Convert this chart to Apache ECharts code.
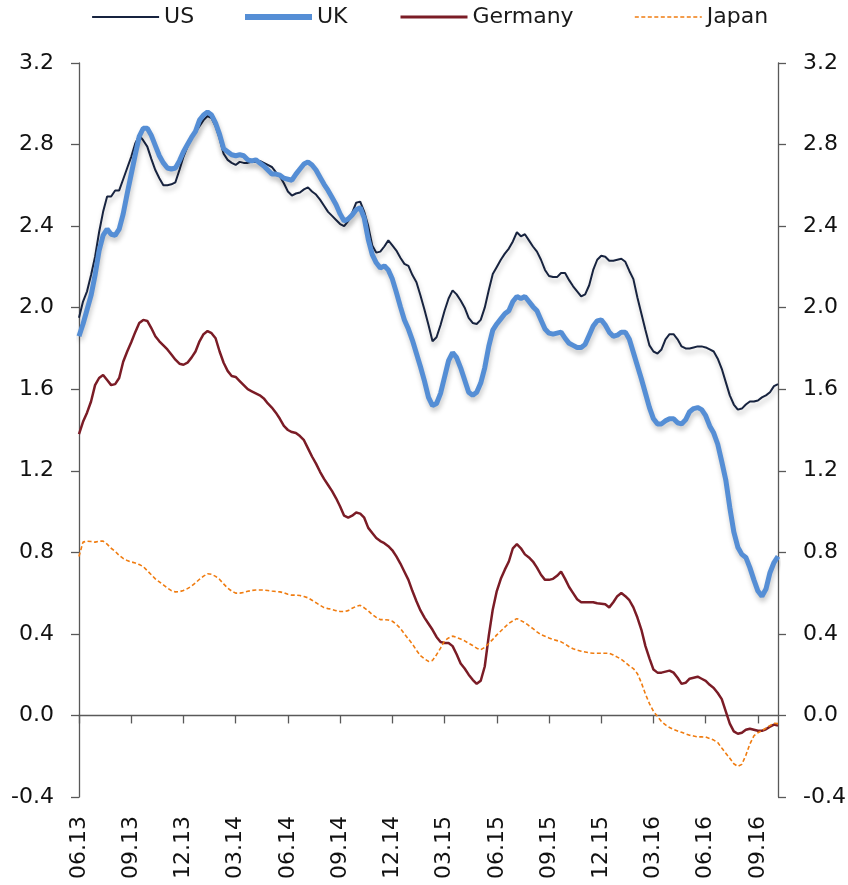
<!DOCTYPE html>
<html>
<head>
<meta charset="utf-8">
<script src="https://cdn.jsdelivr.net/npm/echarts@6/dist/echarts.min.js"></script>
<style>
html,body{margin:0;padding:0;background:#fff;}
#chart{width:848px;height:885px;}
</style>
</head>
<body>
<div id="chart"></div>
<script>
// Quarterly tick labels (one every 13 weekly observations)
const tickLabels = ["06.13","09.13","12.13","03.14","06.14","09.14","12.14","03.15","06.15","09.15","12.15","03.16","06.16","09.16"];
const weeksPerTick = 13;
const startDate = "2013-06-03";

const usValues = [1.95,2.03,2.08,2.16,2.25,2.37,2.47,2.545,2.545,2.575,2.575,2.63,2.685,2.74,2.805,2.845,2.82,2.79,2.73,2.675,
2.635,2.60,2.60,2.605,2.615,2.675,2.74,2.79,2.83,2.86,2.89,2.92,2.94,2.93,2.89,2.83,2.755,2.725,2.71,2.70,
2.715,2.71,2.71,2.715,2.715,2.72,2.71,2.70,2.69,2.665,2.645,2.61,2.57,2.55,2.56,2.565,2.58,2.59,2.57,2.555,
2.53,2.50,2.47,2.45,2.43,2.41,2.40,2.425,2.465,2.515,2.52,2.47,2.40,2.305,2.27,2.275,2.30,2.33,2.305,2.28,
2.245,2.215,2.205,2.16,2.125,2.06,1.99,1.915,1.835,1.855,1.915,1.985,2.045,2.085,2.065,2.035,2.00,1.95,1.925,1.92,
1.94,2.00,2.085,2.165,2.20,2.235,2.265,2.29,2.325,2.37,2.35,2.36,2.33,2.30,2.275,2.235,2.185,2.155,2.15,2.15,
2.17,2.17,2.135,2.105,2.08,2.055,2.065,2.11,2.185,2.235,2.255,2.25,2.23,2.23,2.235,2.24,2.225,2.18,2.14,2.05,
1.97,1.89,1.815,1.785,1.775,1.795,1.845,1.87,1.87,1.845,1.81,1.80,1.80,1.805,1.81,1.81,1.805,1.795,1.785,1.75,
1.70,1.635,1.57,1.525,1.50,1.505,1.525,1.54,1.54,1.545,1.56,1.57,1.585,1.615,1.625];

const ukValues = [1.86,1.92,1.99,2.06,2.16,2.28,2.355,2.385,2.36,2.355,2.385,2.46,2.56,2.655,2.75,2.84,2.88,2.88,2.845,2.795,
2.745,2.71,2.685,2.68,2.685,2.72,2.765,2.80,2.835,2.865,2.92,2.945,2.96,2.945,2.905,2.85,2.78,2.765,2.75,2.745,
2.75,2.745,2.725,2.72,2.725,2.71,2.695,2.675,2.655,2.655,2.65,2.635,2.63,2.625,2.655,2.68,2.705,2.715,2.70,2.675,
2.64,2.605,2.575,2.54,2.505,2.46,2.425,2.435,2.455,2.48,2.49,2.44,2.335,2.26,2.22,2.195,2.205,2.185,2.14,2.075,
2.005,1.94,1.895,1.84,1.775,1.71,1.64,1.56,1.52,1.53,1.58,1.66,1.74,1.78,1.755,1.705,1.645,1.585,1.57,1.585,
1.63,1.705,1.81,1.89,1.92,1.945,1.97,1.985,2.03,2.055,2.045,2.055,2.03,2.005,1.985,1.94,1.895,1.875,1.87,1.875,
1.88,1.85,1.825,1.815,1.805,1.805,1.82,1.865,1.91,1.935,1.94,1.915,1.88,1.86,1.865,1.88,1.88,1.845,1.78,1.715,
1.65,1.58,1.51,1.455,1.43,1.43,1.445,1.455,1.455,1.435,1.43,1.45,1.49,1.505,1.51,1.50,1.47,1.42,1.385,1.33,
1.245,1.155,1.02,0.90,0.825,0.79,0.775,0.725,0.665,0.61,0.585,0.62,0.70,0.75,0.78];

const germanyValues = [1.38,1.44,1.485,1.54,1.62,1.655,1.67,1.645,1.62,1.625,1.655,1.735,1.785,1.83,1.88,1.925,1.94,1.935,1.90,1.86,
1.835,1.815,1.795,1.77,1.745,1.725,1.72,1.73,1.755,1.785,1.835,1.87,1.885,1.875,1.85,1.785,1.73,1.69,1.665,1.66,
1.64,1.62,1.60,1.59,1.58,1.57,1.555,1.53,1.51,1.485,1.455,1.42,1.40,1.39,1.385,1.37,1.35,1.31,1.27,1.235,
1.195,1.16,1.13,1.10,1.065,1.025,0.98,0.97,0.98,0.995,0.99,0.97,0.92,0.895,0.87,0.855,0.845,0.83,0.81,0.78,
0.745,0.705,0.665,0.61,0.56,0.515,0.48,0.45,0.42,0.385,0.36,0.355,0.355,0.34,0.30,0.255,0.23,0.20,0.175,0.155,
0.17,0.24,0.39,0.52,0.61,0.67,0.715,0.755,0.82,0.84,0.82,0.79,0.775,0.755,0.725,0.69,0.665,0.665,0.67,0.685,
0.705,0.67,0.63,0.60,0.57,0.555,0.555,0.555,0.555,0.55,0.548,0.545,0.53,0.555,0.585,0.60,0.585,0.565,0.53,0.48,
0.42,0.34,0.28,0.225,0.21,0.21,0.215,0.22,0.21,0.185,0.155,0.16,0.18,0.185,0.19,0.18,0.17,0.15,0.135,0.11,
0.08,0.02,-0.04,-0.078,-0.09,-0.085,-0.07,-0.065,-0.07,-0.075,-0.075,-0.068,-0.055,-0.045,-0.05];

const japanValues = [0.78,0.85,0.855,0.853,0.85,0.855,0.855,0.84,0.82,0.805,0.785,0.77,0.76,0.753,0.748,0.74,0.73,0.71,0.69,0.67,
0.655,0.64,0.625,0.612,0.606,0.607,0.613,0.622,0.634,0.65,0.668,0.683,0.695,0.692,0.682,0.667,0.645,0.625,0.61,0.60,
0.60,0.603,0.609,0.613,0.615,0.615,0.615,0.613,0.61,0.608,0.606,0.602,0.594,0.59,0.59,0.588,0.583,0.577,0.565,0.553,
0.54,0.529,0.524,0.52,0.514,0.51,0.51,0.514,0.526,0.535,0.54,0.528,0.513,0.495,0.481,0.47,0.47,0.468,0.462,0.447,
0.427,0.40,0.375,0.35,0.32,0.293,0.278,0.265,0.27,0.298,0.33,0.366,0.38,0.389,0.383,0.375,0.366,0.354,0.343,0.33,
0.322,0.334,0.353,0.373,0.395,0.414,0.433,0.452,0.464,0.475,0.465,0.455,0.44,0.426,0.41,0.396,0.388,0.38,0.373,0.367,
0.361,0.35,0.337,0.327,0.32,0.315,0.311,0.307,0.305,0.305,0.305,0.305,0.305,0.297,0.286,0.275,0.26,0.243,0.23,0.205,
0.16,0.105,0.058,0.02,-0.005,-0.03,-0.046,-0.059,-0.069,-0.076,-0.083,-0.09,-0.097,-0.101,-0.105,-0.105,-0.106,-0.113,-0.121,-0.133,
-0.16,-0.185,-0.21,-0.237,-0.25,-0.24,-0.195,-0.14,-0.10,-0.085,-0.075,-0.062,-0.05,-0.038,-0.04];

const seriesNames = ["US","UK","Germany","Japan"];

// weekly category dates
const categories = [];
{
  const d0 = new Date(startDate + "T00:00:00Z");
  for (let i = 0; i < usValues.length; i++) {
    const d = new Date(d0.getTime() + i * 7 * 86400000);
    categories.push(d.toISOString().slice(0, 10));
  }
}

const FONT = "DejaVu Sans";
const chart = echarts.init(document.getElementById("chart"), null, {renderer: "canvas"});

const axisGray = "#595959";
const isTick = (idx) => idx % weeksPerTick === 0;

function legendAt(name, left, lineWidth) {
  return {
    data: [{name: name, lineStyle: {width: lineWidth}}], left: left, top: 1,
    itemWidth: 67, itemHeight: 14, itemGap: 5,
    itemStyle: {opacity: 0, borderWidth: 0},
    textStyle: {fontFamily: FONT, fontSize: 22, color: "#1a1a1a"},
    selectedMode: false
  };
}

const yAxisCommon = {
  type: "value", min: -0.4, max: 3.2, interval: 0.4,
  splitLine: {show: false},
  axisLine: {show: true, lineStyle: {color: axisGray, width: 1.3}},
  axisTick: {show: true, length: 8, lineStyle: {color: axisGray, width: 1.3}},
  axisLabel: {fontFamily: FONT, fontSize: 22, color: "#111", margin: 25, formatter: v => v.toFixed(1)}
};

const option = {
  animation: false,
  backgroundColor: "#fff",
  legend: [legendAt("US", 86, 2.2), legendAt("UK", 237, 6), legendAt("Germany", 394, 3), legendAt("Japan", 629, 1.6)],
  grid: {left: 79, right: 70, top: 63, bottom: 88, containLabel: false, outerBoundsMode: "none"},
  xAxis: [
    {
      type: "category", data: categories, boundaryGap: false, position: "bottom",
      axisLine: {show: true, onZero: true, lineStyle: {color: axisGray, width: 1.3}},
      axisTick: {show: true, length: 8, interval: isTick, lineStyle: {color: axisGray, width: 1.3}},
      axisLabel: {show: false},
      splitLine: {show: false}
    },
    {
      type: "category", data: categories, boundaryGap: false, position: "bottom",
      axisLine: {show: false, onZero: false},
      axisTick: {show: false},
      axisLabel: {
        show: true, rotate: 90, margin: 19, interval: isTick,
        fontFamily: FONT, fontSize: 22, color: "#111",
        formatter: (v, idx) => tickLabels[Math.round(idx / weeksPerTick)]
      },
      splitLine: {show: false}
    }
  ],
  yAxis: [
    Object.assign({}, yAxisCommon, {position: "left"}),
    Object.assign({}, yAxisCommon, {position: "right"})
  ],
  series: [
    {
      name: seriesNames[0], type: "line", data: usValues, symbol: "none", xAxisIndex: 0, yAxisIndex: 0,
      lineStyle: {color: "#17233f", width: 2, shadowColor: "rgba(0,0,0,0.25)", shadowBlur: 5, shadowOffsetY: 4, shadowOffsetX: 1},
      itemStyle: {color: "#17233f"}
    },
    {
      name: seriesNames[1], type: "line", data: ukValues, symbol: "none", xAxisIndex: 0, yAxisIndex: 0,
      lineStyle: {color: "#558ed5", width: 5, shadowColor: "rgba(0,0,0,0.22)", shadowBlur: 5, shadowOffsetY: 4, shadowOffsetX: 1},
      itemStyle: {color: "#558ed5"}
    },
    {
      name: seriesNames[2], type: "line", data: germanyValues, symbol: "none", xAxisIndex: 0, yAxisIndex: 0,
      lineStyle: {color: "#7b1c26", width: 2.5},
      itemStyle: {color: "#7b1c26"}
    },
    {
      name: seriesNames[3], type: "line", data: japanValues, symbol: "none", xAxisIndex: 0, yAxisIndex: 0,
      lineStyle: {color: "#f07c10", width: 1.6, type: [4, 2.5]},
      itemStyle: {color: "#f07c10"}
    }
  ]
};
chart.setOption(option);
</script>
</body>
</html>
